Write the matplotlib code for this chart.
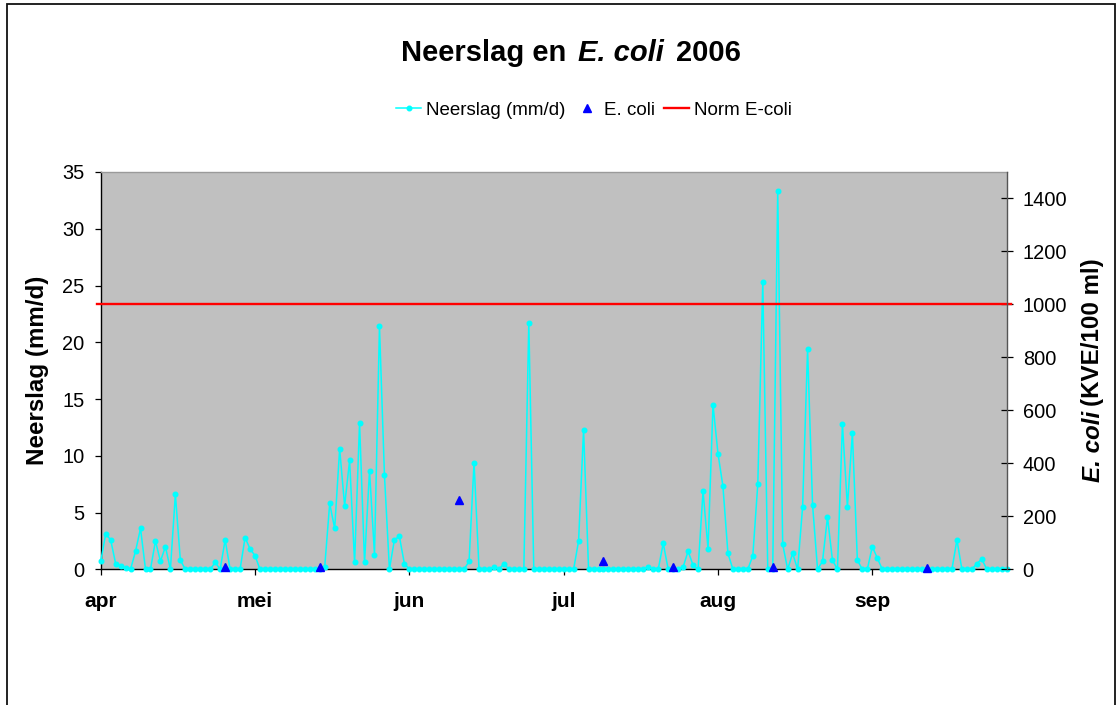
import numpy as np
import pandas as pd
import matplotlib
matplotlib.use('Agg')
import matplotlib.pyplot as plt
from matplotlib.lines import Line2D
from matplotlib.patches import Rectangle

plt.rcParams['font.family'] = ['Liberation Sans', 'DejaVu Sans']

# ---------------- data ----------------
start_date = '2006-04-01'
end_date = '2006-09-30'
month_labels = ['apr', 'mei', 'jun', 'jul', 'aug', 'sep']

neerslag = [
    0.7, 3.1, 2.6, 0.5, 0.3, 0.1, 0, 1.6, 3.6, 0, 0, 2.5, 0.7, 2.0, 0, 6.6, 0.8,
    0, 0, 0, 0, 0, 0, 0.6, 0, 2.6, 0, 0, 0, 2.8, 1.8, 1.2,
    0, 0, 0, 0, 0, 0, 0, 0, 0, 0, 0, 0, 0,
    0.2, 5.8, 3.6, 10.6, 5.6, 9.6, 0.6, 12.9, 0.6, 8.7, 1.3, 21.4, 8.3, 0, 2.6, 2.9, 0.5,
    0, 0, 0, 0, 0, 0, 0, 0, 0, 0, 0, 0,
    0.7, 9.4, 0, 0, 0, 0.2, 0, 0.5, 0, 0, 0, 0, 21.7,
    0, 0, 0, 0, 0, 0, 0, 0, 0,
    2.5, 12.3,
    0, 0, 0, 0, 0, 0, 0, 0, 0, 0, 0, 0,
    0.2, 0, 0, 2.3, 0, 0, 0, 0.2, 1.6, 0.35, 0,
    6.9, 1.8, 14.5, 10.2, 7.3, 1.4, 0, 0, 0, 0, 1.2, 7.5, 25.3, 0, 0, 33.35, 2.2, 0, 1.4, 0,
    5.5, 19.4, 5.7, 0, 0.7, 4.6, 0.8, 0, 12.8, 5.5, 12.0, 0.8, 0, 0, 2.0, 1.0,
    0, 0, 0, 0, 0, 0, 0, 0, 0, 0, 0, 0, 0, 0, 0,
    2.6, 0, 0, 0, 0.5, 0.9, 0, 0, 0, 0, 0,
]

ecoli_dates = ['2006-04-26', '2006-05-15', '2006-06-12', '2006-07-11',
               '2006-07-25', '2006-08-14', '2006-09-14']
ecoli_values = [10, 10, 260, 30, 10, 10, 5]

norm_ecoli = 1000

dates = pd.date_range(start_date, end_date, freq='D')
assert len(dates) == len(neerslag)
day_index = {d: i for i, d in enumerate(dates)}
ecoli_idx = [day_index[pd.Timestamp(d)] for d in ecoli_dates]
x = np.arange(len(neerslag))

# ---------------- figure ----------------
W, H = 1116, 705
fig = plt.figure(figsize=(W / 100, H / 100), dpi=100)

def fx(px):
    return px / W

def fy(py):
    return 1 - py / H

ax = fig.add_axes([fx(100.7), fy(569.3), 906 / W, 397.3 / H])
ax.set_facecolor('#C0C0C0')
ax.plot(x, neerslag, color='#00FFFF', lw=1.1, marker='o', ms=3.3,
        mfc='#00FFFF', mec='#00FFFF', clip_on=False, zorder=3)
ax.set_xlim(0, len(neerslag) - 1)
ax.set_ylim(0, 35)
ax.set_yticks(np.arange(0, 36, 5))
ax.set_xticks(np.arange(0, len(neerslag), 31)[:len(month_labels)])
ax.set_xticklabels(month_labels)
for lab in ax.get_xticklabels():
    lab.set_fontweight('bold')
ax.tick_params(axis='y', direction='out', length=4.3, width=0.9, labelsize=14.4, pad=7.2)
ax.tick_params(axis='x', direction='out', length=4.3, width=0.9, labelsize=15, pad=12)
ax.spines['left'].set_color('black')
ax.spines['bottom'].set_color('black')
ax.spines['top'].set_color('#9a9a9a')
ax.spines['right'].set_visible(False)
for s in ax.spines.values():
    s.set_linewidth(1.0)

ax2 = ax.twinx()
ax2.set_ylim(0, 1500)
ax2.set_yticks(np.arange(0, 1401, 200))
ax2.tick_params(axis='y', direction='inout', length=8.6, width=0.9, labelsize=14.4, pad=7.2)
ax2.spines['right'].set_color('#555555')
ax2.spines['right'].set_linewidth(1.0)
for s in ['left', 'top', 'bottom']:
    ax2.spines[s].set_visible(False)
ax2.axhline(norm_ecoli, color='#FF0000', lw=1.7, xmin=-0.004, xmax=1.0045,
            clip_on=False, zorder=2)
ax2.plot(ecoli_idx, ecoli_values, ls='none', marker='^', ms=5.2,
         color='#0000FF', clip_on=False, zorder=4)

# ---------------- texts ----------------
renderer = fig.canvas.get_renderer()

def chain_horizontal(parts, x_center_px, y_base_px, gap_px, size):
    texts = []
    widths = []
    for s, style in parts:
        t = fig.text(0, fy(y_base_px), s, fontsize=size, fontweight='bold',
                     fontstyle=style, ha='left', va='baseline')
        texts.append(t)
        widths.append(t.get_window_extent(renderer).width)
    total = sum(widths) + gap_px * (len(parts) - 1)
    cur = x_center_px - total / 2
    for t, w in zip(texts, widths):
        t.set_x(fx(cur))
        cur += w + gap_px

def chain_vertical(parts, x_center_px, y_center_px, gap_px, size):
    texts = []
    heights = []
    for s, style in parts:
        t = fig.text(fx(x_center_px), 0, s, fontsize=size, fontweight='bold',
                     fontstyle=style, ha='center', va='bottom', rotation=90)
        texts.append(t)
        heights.append(t.get_window_extent(renderer).height)
    total = sum(heights) + gap_px * (len(parts) - 1)
    cur = (H - y_center_px) - total / 2  # figure pixel from bottom
    for t, h in zip(texts, heights):
        t.set_y(cur / H)
        cur += h + gap_px

chain_horizontal([('Neerslag en', 'normal'), ('E. coli', 'italic'), ('2006', 'normal')],
                 571, 61, 12, 21)

chain_vertical([('E. coli', 'italic'), ('(KVE/100 ml)', 'normal')],
               1093, 370, 5, 17.4)

fig.text(fx(38), fy(370), 'Neerslag (mm/d)', fontsize=17.4, fontweight='bold',
         rotation=90, ha='center', va='center')

# legend
handles = [
    Line2D([], [], color='#00FFFF', lw=1.1, marker='o', ms=3.3, mfc='#00FFFF', mec='#00FFFF'),
    Line2D([], [], ls='none', marker='^', ms=5.2, color='#0000FF'),
    Line2D([], [], color='#FF0000', lw=1.7),
]
fig.legend(handles, ['Neerslag (mm/d)', 'E. coli', 'Norm E-coli'],
           loc='center', bbox_to_anchor=(fx(594), fy(110)), ncol=3, frameon=False,
           fontsize=13.5, handlelength=1.3, handletextpad=0.27, columnspacing=0.5,
           borderpad=0, borderaxespad=0)

# outer chart border
fig.patches.append(Rectangle((fx(7.3), -0.05), fx(1114.7) - fx(7.3), fy(4.3) + 0.05,
                             transform=fig.transFigure, fill=False, lw=1.3,
                             edgecolor='#111111', zorder=0))

fig.savefig('out.png', dpi=100)
